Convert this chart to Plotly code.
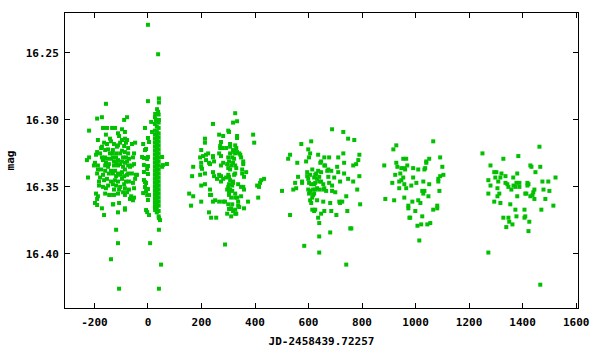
import plotly.graph_objects as go

# Season 1 (around -230 .. -40)
s1 = [(-157,16.288),(-172,16.298),(-190,16.299),(-89,16.300),(-78,16.298),(-220,16.308),(-168,16.306),(-153,16.306),
      (-134,16.306),(-123,16.306),(-97,16.307),(-86,16.309),(-112,16.310),(-108,16.312),(-157,16.311),(-187,16.315),
      (-142,16.314),(-138,16.316),(-97,16.315),(-86,16.314),(-78,16.315),(-164,16.317),(-153,16.318),(-172,16.320),
      (-175,16.321),(-127,16.318),(-112,16.319),(-116,16.320),(-104,16.317),(-82,16.317),(-89,16.3195),(-74,16.321),
      (-60,16.318),(-48,16.317),(-149,16.322),(-160,16.3225),(-131,16.3225),(-190,16.324),(-179,16.325),(-194,16.326),
      (-142,16.325),(-134,16.325),(-119,16.325),(-97,16.323),(-86,16.324),(-104,16.325),(-74,16.325),(-52,16.325),
      (-220,16.328),(-228,16.330),(-172,16.328),(-160,16.328),(-168,16.330),(-153,16.329),(-131,16.328),(-119,16.328),
      (-138,16.329),(-112,16.330),(-127,16.331),(-93,16.328),(-82,16.328),(-71,16.329),(-97,16.331),(-78,16.331),
      (-56,16.328),(-198,16.332),(-187,16.334),(-202,16.334),(-157,16.332),(-146,16.333),(-160,16.334),(-149,16.335),
      (-119,16.332),(-112,16.334),(-127,16.334),(-104,16.333),(-86,16.332),(-74,16.334),(-93,16.335),(-67,16.335),
      (-52,16.333),(-60,16.334),(-187,16.337),(-175,16.337),(-190,16.340),(-160,16.338),(-146,16.340),(-168,16.341),
      (-138,16.338),(-123,16.338),(-112,16.340),(-131,16.340),(-104,16.341),(-119,16.342),(-86,16.337),(-97,16.339),
      (-74,16.340),(-89,16.342),(-78,16.341),(-60,16.340),(-45,16.341),(-41,16.341),(-224,16.343),(-179,16.343),
      (-164,16.345),(-183,16.346),(-153,16.344),(-138,16.346),(-123,16.345),(-112,16.346),(-131,16.348),(-97,16.344),
      (-82,16.346),(-71,16.346),(-89,16.348),(-56,16.347),(-48,16.344),(-183,16.349),(-168,16.350),(-157,16.351),
      (-149,16.349),(-119,16.349),(-104,16.350),(-108,16.352),(-127,16.352),(-86,16.351),(-71,16.352),(-78,16.354),
      (-93,16.354),(-52,16.351),(-194,16.355),(-187,16.357),(-190,16.359),(-160,16.355),(-142,16.356),(-127,16.356),
      (-112,16.355),(-86,16.356),(-63,16.357),(-67,16.359),(-56,16.360),(-52,16.358),(-198,16.362),(-190,16.3635),
      (-131,16.363),(-108,16.362),(-86,16.366),(-86,16.367),(-172,16.366),(-112,16.369),(-164,16.371),(-145,16.356),
      (-130,16.363),(-119,16.382),(-112,16.392),(-138,16.404),(-108,16.426)]

# Season 2 (around -20 .. 70)
s2 = [(0,16.229),(38,16.251),(0,16.286),(41,16.284),(41,16.287),(34,16.292),(38,16.294),(27,16.2956),(12,16.3015),
      (30,16.300),(41,16.300),(-11,16.306),(15,16.309),(0,16.3135),(4,16.3165),(-18,16.318),(-11,16.3225),(-7,16.3217),
      (-22,16.3277),(-15,16.3284),(-3,16.3292),(0,16.3277),(71,16.3329),(53,16.3277),(56,16.3337),(-15,16.3337),
      (0,16.3344),(-3,16.3367),(-15,16.3389),(0,16.3404),(-15,16.3449),(-11,16.3464),(-7,16.3471),(-11,16.3501),
      (0,16.3516),(-7,16.3531),(-18,16.3546),(-3,16.3561),(4,16.3561),(0,16.3598),(-7,16.3673),(-3,16.3688),
      (4,16.371),(27,16.3658),(27,16.3673),(41,16.3733),(45,16.3748),(41,16.382),(8,16.392),(49,16.408),(41,16.426),
      (53,16.335),
      (26,16.298),(26,16.303),(26,16.308),(26,16.311),(26,16.314),(26,16.317),(26,16.320),(26,16.323),(26,16.326),
      (26,16.329),(26,16.332),(26,16.335),(26,16.338),(26,16.341),(26,16.344),(26,16.347),(26,16.350),(26,16.353),
      (26,16.356),(26,16.359),(26,16.362),(26,16.365),
      (33,16.300),(33,16.305),(33,16.309),(33,16.312),(33,16.315),(33,16.318),(33,16.321),(33,16.324),(33,16.327),
      (33,16.330),(33,16.333),(33,16.336),(33,16.339),(33,16.342),(33,16.345),(33,16.348),(33,16.351),(33,16.354),
      (33,16.357),(33,16.360),(33,16.363),(33,16.366),(33,16.369),
      (40,16.296),(40,16.302),(40,16.306),(40,16.310),(40,16.313),(40,16.316),(40,16.319),(40,16.322),(40,16.325),
      (40,16.328),(40,16.331),(40,16.334),(40,16.337),(40,16.340),(40,16.343),(40,16.346),(40,16.349),(40,16.352),
      (40,16.355),(40,16.358),(40,16.361),(40,16.364),(40,16.368),(40,16.372)]

# Season 3 (around 150 .. 435)
s3 = [(326,16.295),(333,16.301),(318,16.302),(243,16.303),(393,16.311),(300,16.308),(303,16.309),(266,16.311),
      (281,16.312),(333,16.312),(333,16.3135),(213,16.314),(213,16.317),(397,16.317),(273,16.3165),(270,16.3195),
      (277,16.321),(270,16.321),(307,16.318),(307,16.320),(326,16.319),(330,16.321),(292,16.321),(199,16.3225),
      (225,16.325),(318,16.3225),(322,16.324),(307,16.325),(326,16.325),(333,16.324),(341,16.325),(345,16.326),
      (266,16.325),(273,16.327),(243,16.327),(243,16.328),(206,16.327),(217,16.326),(195,16.328),(300,16.328),
      (315,16.328),(322,16.329),(348,16.328),(217,16.330),(199,16.332),(228,16.332),(247,16.331),(232,16.333),
      (281,16.332),(273,16.334),(303,16.331),(296,16.333),(311,16.334),(318,16.332),(356,16.331),(356,16.333),
      (326,16.334),(330,16.336),(169,16.335),(199,16.335),(202,16.3365),(300,16.336),(307,16.337),(352,16.337),
      (352,16.340),(367,16.339),(165,16.342),(195,16.341),(213,16.340),(243,16.339),(247,16.342),(266,16.341),
      (273,16.342),(300,16.341),(303,16.3425),(322,16.341),(326,16.340),(258,16.344),(273,16.346),(281,16.344),
      (292,16.343),(307,16.345),(318,16.346),(359,16.3425),(434,16.344),(423,16.345),(419,16.347),(303,16.348),
      (315,16.349),(318,16.347),(300,16.350),(337,16.348),(348,16.350),(356,16.350),(199,16.349),(213,16.348),
      (408,16.349),(415,16.350),(232,16.352),(307,16.352),(315,16.353),(303,16.354),(326,16.355),(296,16.352),
      (359,16.352),(154,16.355),(169,16.357),(232,16.356),(236,16.356),(303,16.356),(311,16.358),(326,16.358),
      (333,16.358),(348,16.357),(412,16.358),(199,16.361),(243,16.361),(251,16.360),(266,16.361),(281,16.361),
      (288,16.361),(300,16.363),(315,16.363),(337,16.361),(374,16.361),(161,16.364),(303,16.3665),(311,16.366),
      (337,16.364),(341,16.365),(359,16.366),(326,16.367),(330,16.370),(318,16.368),(228,16.369),(296,16.370),
      (311,16.372),(326,16.370),(236,16.373),(255,16.373),(288,16.393)]

# Season 4 (around 500 .. 795)
s4 = [(688,16.307),(730,16.309),(748,16.314),(771,16.315),(610,16.316),(573,16.318),(599,16.322),(730,16.325),
      (606,16.325),(531,16.326),(636,16.326),(524,16.329),(602,16.328),(659,16.328),(677,16.328),(711,16.328),
      (786,16.330),(790,16.326),(558,16.332),(591,16.331),(644,16.332),(647,16.331),(733,16.332),(767,16.334),
      (778,16.333),(659,16.334),(662,16.334),(707,16.335),(674,16.337),(685,16.338),(670,16.338),(595,16.339),
      (614,16.337),(636,16.338),(647,16.339),(629,16.340),(711,16.339),(733,16.340),(561,16.3425),(595,16.342),
      (606,16.341),(599,16.344),(625,16.341),(621,16.343),(632,16.344),(640,16.3425),(674,16.3425),(696,16.343),
      (748,16.344),(790,16.342),(718,16.346),(767,16.346),(550,16.347),(576,16.346),(576,16.347),(602,16.347),
      (610,16.348),(621,16.348),(625,16.347),(640,16.346),(647,16.346),(655,16.348),(677,16.347),(688,16.349),
      (543,16.352),(554,16.351),(599,16.352),(606,16.353),(602,16.355),(617,16.352),(625,16.352),(640,16.352),
      (621,16.355),(632,16.351),(655,16.352),(659,16.351),(666,16.353),(688,16.353),(700,16.354),(782,16.352),
      (501,16.353),(617,16.356),(614,16.358),(741,16.357),(606,16.360),(632,16.360),(610,16.362),(655,16.361),
      (681,16.362),(715,16.361),(718,16.362),(726,16.361),(793,16.363),(614,16.367),(621,16.368),(625,16.367),
      (659,16.368),(647,16.370),(685,16.368),(745,16.368),(704,16.371),(531,16.371),(636,16.373),(640,16.377),
      (760,16.381),(756,16.381),(681,16.384),(640,16.387),(584,16.394),(640,16.399),(741,16.408)]

# Season 5 (around 880 .. 1105)
s5 = [(1066,16.316),(928,16.319),(917,16.322),(954,16.329),(965,16.329),(1051,16.329),(1092,16.328),(928,16.332),
      (1040,16.331),(1040,16.332),(969,16.334),(883,16.334),(932,16.335),(947,16.336),(958,16.336),(961,16.337),
      (991,16.336),(1010,16.337),(1036,16.336),(1033,16.337),(1100,16.335),(943,16.340),(924,16.341),(954,16.343),
      (1092,16.342),(1104,16.341),(991,16.343),(1085,16.344),(1085,16.346),(947,16.345),(939,16.346),(913,16.347),
      (958,16.348),(1003,16.347),(1029,16.346),(1051,16.348),(984,16.349),(939,16.351),(965,16.351),(1025,16.353),
      (1033,16.353),(1029,16.355),(1089,16.353),(1048,16.357),(958,16.358),(887,16.359),(920,16.360),(1010,16.360),
      (988,16.361),(1018,16.362),(973,16.364),(973,16.366),(1081,16.364),(1081,16.366),(1066,16.367),(999,16.368),
      (1025,16.372),(977,16.373),(980,16.373),(1055,16.377),(1044,16.378),(1021,16.378),(1007,16.379),(1014,16.390)]

# Season 6 (around 1250 .. 1525)
s6 = [(1463,16.320),(1250,16.325),(1384,16.327),(1328,16.329),(1280,16.334),(1429,16.334),(1433,16.335),(1466,16.335),
      (1294,16.339),(1302,16.339),(1321,16.340),(1380,16.340),(1448,16.339),(1336,16.342),(1298,16.343),(1317,16.343),
      (1365,16.343),(1523,16.343),(1272,16.345),(1309,16.346),(1336,16.347),(1343,16.348),(1377,16.347),(1388,16.347),
      (1418,16.347),(1422,16.348),(1474,16.346),(1496,16.346),(1280,16.349),(1347,16.350),(1358,16.352),(1366,16.349),
      (1373,16.350),(1388,16.350),(1418,16.349),(1444,16.352),(1306,16.351),(1478,16.352),(1500,16.353),(1272,16.355),
      (1313,16.355),(1410,16.355),(1414,16.355),(1429,16.357),(1437,16.356),(1440,16.354),(1306,16.357),(1380,16.357),
      (1444,16.359),(1485,16.359),(1294,16.361),(1317,16.362),(1354,16.363),(1515,16.364),(1373,16.367),(1407,16.367),
      (1470,16.367),(1328,16.373),(1347,16.373),(1377,16.372),(1407,16.373),(1410,16.372),(1350,16.376),(1425,16.376),
      (1362,16.378),(1339,16.380),(1422,16.383),(1272,16.399),(1466,16.423)]

x_ticks = [-200, 0, 200, 400, 600, 800, 1000, 1200, 1400, 1600]
y_ticks = [16.25, 16.30, 16.35, 16.40]

all_pts = s1 + s2 + s3 + s4 + s5 + s6
jd = [p[0] for p in all_pts]
mag = [p[1] for p in all_pts]

font_main = dict(family="DejaVu Sans Mono", size=11, color="black", weight="bold")

fig = go.Figure(go.Scatter(
    x=jd, y=mag, mode="markers",
    marker=dict(symbol="square", size=4, color="#00c000", line=dict(width=0)),
    showlegend=False,
))

axis_common = dict(
    showline=True, linecolor="black", linewidth=1, mirror="ticks",
    ticks="inside", ticklen=5, tickcolor="black", tickwidth=1,
    showgrid=False, zeroline=False, tickfont=font_main, automargin=False,
)

fig.update_layout(
    width=600, height=350,
    margin=dict(l=65, r=22, t=13, b=42),
    paper_bgcolor="white", plot_bgcolor="white",
    xaxis=dict(range=[-310, 1607], tickvals=x_ticks, ticktext=[str(v) for v in x_ticks],
               ticklabelstandoff=4,
               title=dict(text="JD-2458439.72257", font=font_main, standoff=9), **axis_common),
    yaxis=dict(range=[16.4404, 16.2202], tickvals=y_ticks, ticktext=["%.2f" % v for v in y_ticks],
               ticklabelstandoff=3,
               title=dict(text="mag", font=font_main, standoff=8), **axis_common),
)

fig.write_html("out.html",
               config={"displayModeBar": False},
               post_script="document.body.style.margin='0';document.body.style.padding='0';")
